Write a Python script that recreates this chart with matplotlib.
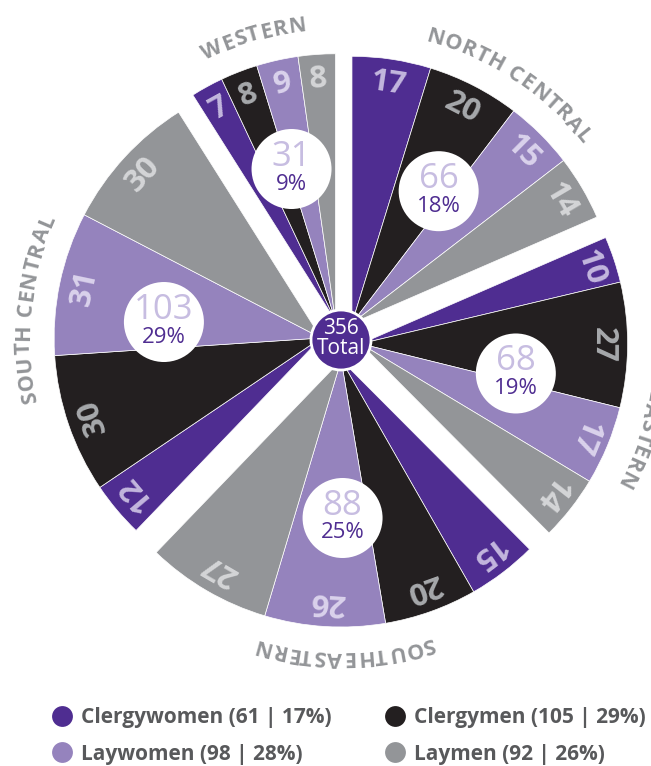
import numpy as np
import matplotlib.pyplot as plt
from matplotlib.lines import Line2D
from matplotlib.patches import Circle
from matplotlib.font_manager import FontProperties
from matplotlib.textpath import TextToPath

# ------------------------------
# Data
# ------------------------------
regions = ['WESTERN', 'NORTH CENTRAL', 'NORTHEASTERN', 'SOUTHEASTERN', 'SOUTH CENTRAL']
region_totals = [31, 66, 68, 88, 103]
region_pcts = ['9%', '18%', '19%', '25%', '29%']
clergywomen = [7, 17, 10, 15, 12]
clergymen = [8, 20, 27, 20, 30]
laywomen = [9, 15, 17, 26, 31]
laymen = [8, 14, 14, 27, 30]
grand_total = 356
legend_labels = ['Clergywomen (61 | 17%)', 'Clergymen (105 | 29%)',
                 'Laywomen (98 | 28%)', 'Laymen (92 | 26%)']

# ------------------------------
# Style
# ------------------------------
PURPLE = '#4f2d91'
BLACK = '#231f20'
LAVENDER = '#9583bd'
GRAY = '#939598'
slice_colors = [PURPLE, BLACK, LAVENDER, GRAY]
number_colors = ['#c3b7de', '#a7a9ac', '#dad2ec', '#d4d5d7']
TOTAL_NUM_COLOR = '#c7bde1'
LABEL_GRAY = '#939598'
LEGEND_TEXT = '#58595b'
FONT = 'Open Sans'

# layout, in pixels (y up)
W, H = 651, 766
CX, CY = 341, 426
R = 267
EXPLODE = 20
NUM_R = 242
BUBBLE_D = 158
BUBBLE_R = 40
LABEL_R = 297
TRACK = 1.2  # extra letter spacing on curved labels, px

fig = plt.figure(figsize=(W / 100, H / 100), dpi=100)
ax = fig.add_axes([0, 0, 1, 1])

ttp = TextToPath()
PT2PX = 100 / 72


def curved_label(text, cx, cy, r, mid_deg, fp, color):
    # text runs clockwise, letter tops pointing outward
    def width(s):
        if not s.strip():
            return 0.0
        return ttp.get_text_width_height_descent(s, fp, ismath=False)[0] * PT2PX
    total = width(text) + TRACK * (len(text) - 1)
    for i, ch in enumerate(text):
        if ch == ' ':
            continue
        s = width(text[:i + 1]) - width(ch) / 2 + TRACK * i
        ang = mid_deg + np.degrees((total / 2 - s) / r)
        a = np.radians(ang)
        ax.text(cx + r * np.cos(a), cy + r * np.sin(a), ch, fontproperties=fp,
                color=color, rotation=ang - 90, rotation_mode='anchor',
                ha='center', va='center', zorder=5)


groups = list(zip(clergywomen, clergymen, laywomen, laymen))
slice_sum = sum(sum(g) for g in groups)

num_fp = FontProperties(family=FONT, weight='bold', size=22.5)
region_fp = FontProperties(family=FONT, weight='bold', size=15.5)

theta = 90 + 360 * sum(groups[0]) / slice_sum
for i, vals in enumerate(groups):
    span = 360 * sum(vals) / slice_sum
    mid = theta - span / 2
    gx = CX + EXPLODE * np.cos(np.radians(mid))
    gy = CY + EXPLODE * np.sin(np.radians(mid))

    fracs = np.array(vals) / slice_sum
    ax.pie(fracs, normalize=False, startangle=theta, counterclock=False,
           radius=R, center=(gx, gy), colors=slice_colors,
           wedgeprops=dict(edgecolor='white', linewidth=0.5))

    # value labels inside each slice
    a = theta
    for v, c in zip(vals, number_colors):
        w = 360 * v / slice_sum
        m = a - w / 2
        ax.text(gx + NUM_R * np.cos(np.radians(m)), gy + NUM_R * np.sin(np.radians(m)),
                str(v), fontproperties=num_fp, color=c, rotation=m - 90,
                rotation_mode='anchor', ha='center', va='center', zorder=4)
        a -= w

    # region bubble
    bx = gx + BUBBLE_D * np.cos(np.radians(mid))
    by = gy + BUBBLE_D * np.sin(np.radians(mid))
    ax.add_patch(Circle((bx, by), BUBBLE_R, facecolor='white', edgecolor='none', zorder=5))
    ax.text(bx, by + 12, str(region_totals[i]), family=FONT, size=25,
            color=TOTAL_NUM_COLOR, ha='center', va='center', zorder=6)
    ax.text(bx, by - 15, region_pcts[i], family=FONT, size=16,
            color=PURPLE, ha='center', va='center', zorder=6)

    curved_label(regions[i], gx, gy, LABEL_R, mid, region_fp, LABEL_GRAY)
    theta -= span

# centre total
ax.add_patch(Circle((CX, CY), 30, facecolor=PURPLE, edgecolor='white', linewidth=2, zorder=7))
ax.text(CX, CY + 11, str(grand_total), family=FONT, size=15, color='white',
        ha='center', va='center', zorder=8)
ax.text(CX, CY - 8, 'Total', family=FONT, size=15, color='white',
        ha='center', va='center', zorder=8)

ax.set_xlim(0, W)
ax.set_ylim(0, H)
ax.set_aspect('equal')
ax.axis('off')

# legend, two columns
handles = [Line2D([], [], marker='o', linestyle='none', markersize=15,
                  markerfacecolor=c, markeredgecolor='none') for c in slice_colors]
leg_fp = FontProperties(family=FONT, weight='bold', size=15)
for col, x0 in [(0, 52 / W), (1, 385 / W)]:
    idx = [col, col + 2]
    leg = fig.legend([handles[k] for k in idx], [legend_labels[k] for k in idx],
                     loc='upper left', bbox_to_anchor=(x0, 1 - 707 / H), frameon=False,
                     prop=leg_fp, borderpad=0, borderaxespad=0, handlelength=1.0,
                     handletextpad=0.4, labelspacing=0.75)
    for t in leg.get_texts():
        t.set_color(LEGEND_TEXT)

fig.savefig('out.png', dpi=100)
